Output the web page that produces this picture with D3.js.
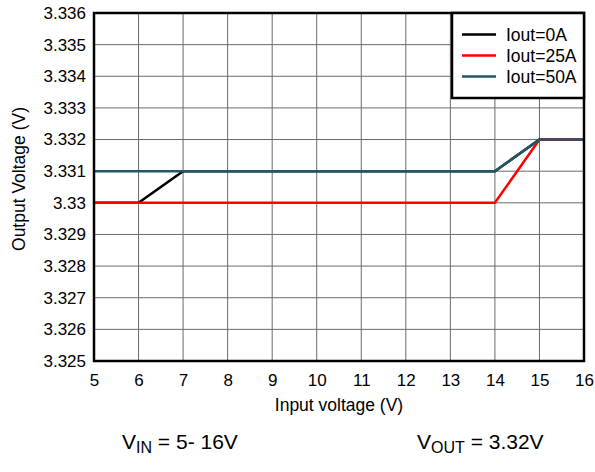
<!DOCTYPE html>
<html><head><meta charset="utf-8">
<script src="https://cdn.jsdelivr.net/npm/d3@7"></script>
<style>body{margin:0;background:#fff}svg{display:block;font-family:"Liberation Sans",Arial,sans-serif}</style>
</head><body><svg id="c" width="595" height="472"></svg>
<script>
const xValues = [5,6,7,8,9,10,11,12,13,14,15,16];
const series0A = [3.330,3.330,3.331,3.331,3.331,3.331,3.331,3.331,3.331,3.331,3.332,3.332];
const series25A = [3.330,3.330,3.330,3.330,3.330,3.330,3.330,3.330,3.330,3.330,3.332,3.332];
const series50A = [3.331,3.331,3.331,3.331,3.331,3.331,3.331,3.331,3.331,3.331,3.332,3.332];
const seriesNames = ["Iout=0A","Iout=25A","Iout=50A"];
const seriesColors = ["#000000","#ff0000","#215868"];
const xTicks = [5,6,7,8,9,10,11,12,13,14,15,16];
const yTicks = [3.325,3.326,3.327,3.328,3.329,3.330,3.331,3.332,3.333,3.334,3.335,3.336];
const yTickLabels = ["3.325","3.326","3.327","3.328","3.329","3.33","3.331","3.332","3.333","3.334","3.335","3.336"];

const svg = d3.select("#c");
const L=94, R=584, T=13, B=361;
const FS = 17;
const x = d3.scaleLinear().domain([5,16]).range([L,R]);
const y = d3.scaleLinear().domain([3.325,3.336]).range([B,T]);

// grid
svg.append("g").selectAll("line").data(xTicks).join("line")
  .attr("x1",d=>x(d)).attr("x2",d=>x(d)).attr("y1",T).attr("y2",B)
  .attr("stroke","#6a6a6a").attr("stroke-width",1);
svg.append("g").selectAll("line").data(yTicks).join("line")
  .attr("y1",d=>y(d)).attr("y2",d=>y(d)).attr("x1",L).attr("x2",R)
  .attr("stroke","#6a6a6a").attr("stroke-width",1);

// axes labels
const xa = svg.append("g").attr("transform",`translate(0,${B})`)
  .call(d3.axisBottom(x).tickValues(xTicks).tickFormat(d3.format("d")).tickSize(0).tickPadding(13));
xa.select(".domain").remove();
xa.selectAll("text").attr("font-size",FS).attr("fill","#000").attr("font-family","Liberation Sans, Arial, sans-serif");
const ya = svg.append("g").attr("transform",`translate(${L},0)`)
  .call(d3.axisLeft(y).tickValues(yTicks).tickFormat((d,i)=>yTickLabels[i]).tickSize(0).tickPadding(8));
ya.select(".domain").remove();
ya.selectAll("text").attr("font-size",FS).attr("fill","#000").attr("font-family","Liberation Sans, Arial, sans-serif");

// lines
const line = d3.line().x((d,i)=>x(xValues[i])).y(d=>y(d));
[series0A,series25A,series50A].forEach((s,k)=>{
  svg.append("path").attr("d",line(s)).attr("fill","none")
    .attr("stroke",seriesColors[k]).attr("stroke-width",2.5);
});

// frame
svg.append("rect").attr("x",L).attr("y",T).attr("width",R-L).attr("height",B-T)
  .attr("fill","none").attr("stroke","#000").attr("stroke-width",2.5);

// legend
const lg = svg.append("g");
lg.append("rect").attr("x",452).attr("y",T).attr("width",R-452).attr("height",85)
  .attr("fill","#fff").attr("stroke","#000").attr("stroke-width",2.5);
seriesNames.forEach((n,i)=>{
  const yy = 34.5 + i*21;
  lg.append("line").attr("x1",462).attr("x2",496).attr("y1",yy).attr("y2",yy)
    .attr("stroke",seriesColors[i]).attr("stroke-width",2.5);
  lg.append("text").attr("x",506).attr("y",yy+6).attr("font-size",17.5).text(n);
});

// axis titles
svg.append("text").attr("x",339).attr("y",411).attr("text-anchor","middle")
  .attr("font-size",17.5).text("Input voltage (V)");
svg.append("text").attr("transform","translate(25,179) rotate(-90)").attr("text-anchor","middle")
  .attr("font-size",17.5).text("Output Voltage (V)");

// footer
const f1 = svg.append("text").attr("x",122).attr("y",449).attr("font-size",21);
f1.append("tspan").text("V");
f1.append("tspan").attr("font-size",16).attr("dy",4).text("IN");
f1.append("tspan").attr("dy",-4).text(" = 5- 16V");
const f2 = svg.append("text").attr("x",417).attr("y",449).attr("font-size",21);
f2.append("tspan").text("V");
f2.append("tspan").attr("font-size",16).attr("dy",4).text("OUT");
f2.append("tspan").attr("dy",-4).text(" = 3.32V");
</script></body></html>
